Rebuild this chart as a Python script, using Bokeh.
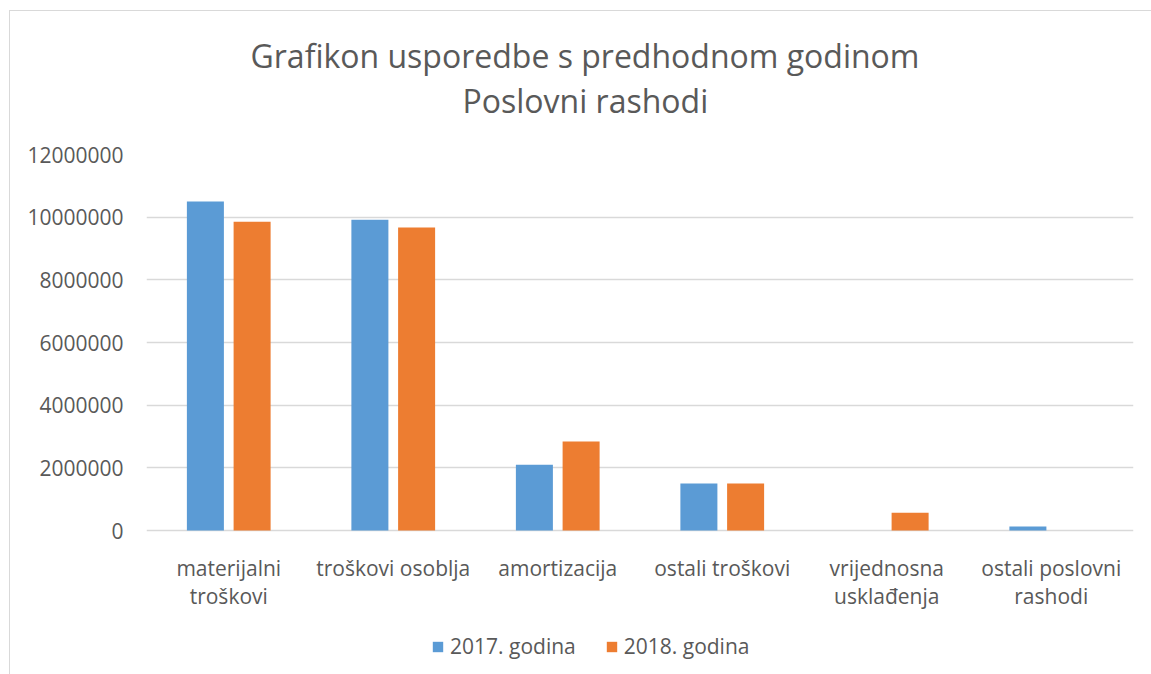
from bokeh.plotting import figure
from bokeh.models import Range1d, Title, FixedTicker, NumeralTickFormatter
from bokeh.core.properties import value
from bokeh.transform import dodge
from bokeh.embed import file_html
from bokeh.resources import INLINE

categories = ["materijalni troškovi", "troškovi osoblja", "amortizacija",
              "ostali troškovi", "vrijednosna usklađenja", "ostali poslovni rashodi"]
label_line1 = ["materijalni", "troškovi osoblja", "amortizacija",
               "ostali troškovi", "vrijednosna", "ostali poslovni"]
label_line2 = ["troškovi", "", "", "", "usklađenja", "rashodi"]
series_names = ["2017. godina", "2018. godina"]
v2017 = [10500000, 9920000, 2100000, 1500000, 0, 130000]
v2018 = [9850000, 9670000, 2840000, 1500000, 570000, 0]
y_ticks = [0, 2000000, 4000000, 6000000, 8000000, 10000000, 12000000]
title_lines = ["Grafikon usporedbe s predhodnom godinom", "Poslovni rashodi"]

FONT = "Open Sans"
TXT = "#595959"
GRID = "#d9d9d9"

W, H = 1151, 674
LEFT, RIGHT, TOP = 146, 18, 154
BAR_AREA_PX = 376            # pixel height of the 0..max value band
LABEL_AREA_PX = H - TOP - BAR_AREA_PX   # room below zero for labels and legend

n = len(categories)
centers = [i + 0.5 for i in range(n)]  # category slot centres on the index axis
y_max = y_ticks[-1]
units_per_px = y_max / BAR_AREA_PX
y_min = -LABEL_AREA_PX * units_per_px

p = figure(width=W, height=H, output_backend="svg", toolbar_location=None,
           x_range=Range1d(0, n), y_range=Range1d(y_min, y_max), x_axis_location=None,
           min_border_left=LEFT, min_border_right=RIGHT, min_border_top=TOP, min_border_bottom=0)
p.border_fill_color = None
p.styles = {
    "background-color": "white",
    "background-image": f"linear-gradient({GRID}, {GRID}), linear-gradient({GRID}, {GRID})",
    "background-size": "3000px 1px, 1px 3000px",
    "background-position": "9px 10px, 9px 10px",
    "background-repeat": "no-repeat, no-repeat",
}

source = dict(pos=centers, cat=categories, a=v2017, b=v2018)
p.vbar(x=dodge("pos", -0.142), top="a", width=0.225, source=source,
       fill_color="#5B9BD5", line_color=None, legend_label=series_names[0])
p.vbar(x=dodge("pos", 0.142), top="b", width=0.225, source=source,
       fill_color="#ED7D31", line_color=None, legend_label=series_names[1])

p.outline_line_color = None
p.xgrid.grid_line_color = None
p.ygrid.grid_line_color = GRID
p.ygrid.grid_line_width = 1.3

p.yaxis.ticker = FixedTicker(ticks=y_ticks)
p.yaxis.formatter = NumeralTickFormatter(format="0")
p.yaxis.axis_line_color = None
p.yaxis.major_tick_line_color = None
p.yaxis.minor_tick_line_color = None
p.yaxis.major_tick_out = 0
p.yaxis.major_tick_in = 0
p.yaxis.major_label_standoff = 23
p.yaxis.major_label_text_font = FONT
p.yaxis.major_label_text_font_size = "21px"
p.yaxis.major_label_text_color = TXT

# category labels (two lines) under the zero line
line1_y = -37 * units_per_px
line2_y = -65 * units_per_px
p.text(x=centers, y=[line1_y] * n, text=label_line1, text_font=value(FONT),
       text_font_size="21px", text_color=TXT, text_align="center",
       text_baseline="alphabetic")
x2 = [c for c, s in zip(centers, label_line2) if s]
t2 = [s for s in label_line2 if s]
p.text(x=x2, y=[line2_y] * len(x2), text=t2, text_font=value(FONT),
       text_font_size="21px", text_color=TXT, text_align="center",
       text_baseline="alphabetic")

lg = p.legend[0]
lg.orientation = "horizontal"
lg.location = (285, 14)
lg.border_line_color = None
lg.background_fill_alpha = 0
lg.padding = 0
lg.margin = 0
lg.spacing = 29
lg.glyph_width = 13
lg.glyph_height = 13
lg.label_standoff = 6
lg.label_text_font = FONT
lg.label_text_font_size = "21px"
lg.label_text_color = TXT

# blank spacer between the plot area and the two title lines
p.add_layout(Title(text=" ", standoff=30, text_font_size="1px"), "above")

for txt, off in [(title_lines[1], 316), (title_lines[0], 104)]:
    p.add_layout(Title(text=txt, align="left", offset=off, standoff=0,
                       vertical_align="bottom", text_font=FONT, text_font_size="32px",
                       text_font_style="normal", text_color=TXT), "above")

open("out.html", "w").write(file_html(p, INLINE))
